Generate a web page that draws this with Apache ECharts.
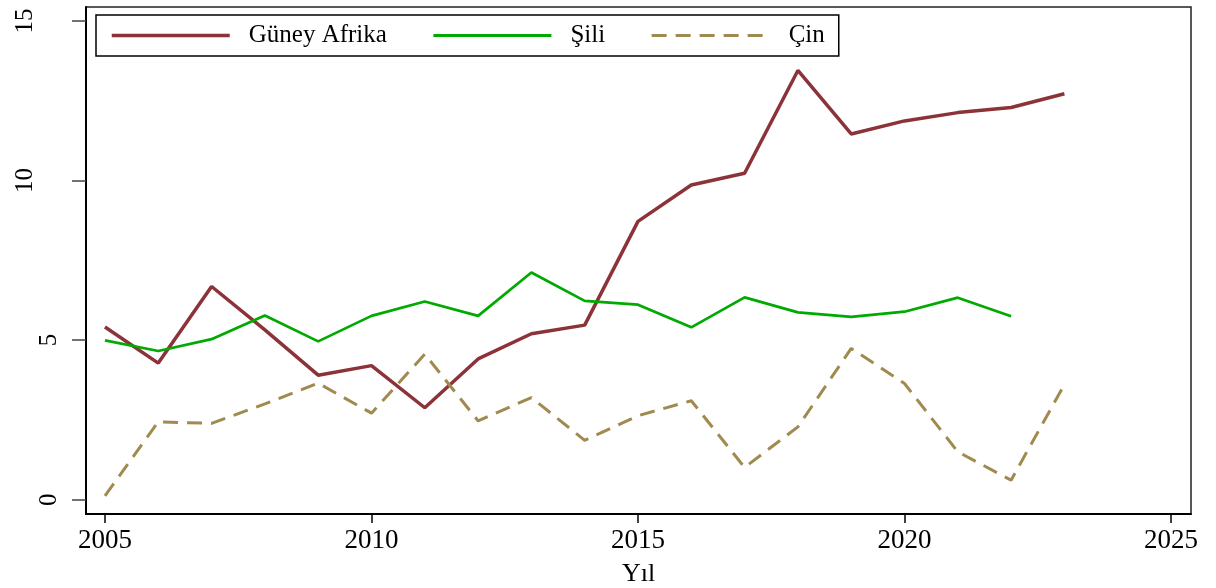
<html lang="tr">
<head>
    <meta charset="UTF-8">
    <title>Güney Afrika, Şili, Çin</title>
    <script src="https://cdn.jsdelivr.net/npm/echarts@6/dist/echarts.min.js"></script>
    <style type="text/css">
        html, body { margin: 0; padding: 0; background: #fff; }
        #main { width: 1216px; height: 588px; }
    </style>
</head>
<body>
    <div id="main"></div>
    <script type="text/javascript">
        // veriler
        var years = [2005, 2006, 2007, 2008, 2009, 2010, 2011, 2012, 2013, 2014,
                     2015, 2016, 2017, 2018, 2019, 2020, 2021, 2022, 2023];
        var guneyAfrika = [5.41, 4.28, 6.68, 5.32, 3.90, 4.20, 2.88, 4.41, 5.20, 5.47,
                           8.72, 9.86, 10.23, 13.45, 11.46, 11.87, 12.13, 12.29, 12.72];
        var sili = [4.99, 4.66, 5.03, 5.77, 4.96, 5.76, 6.21, 5.76, 7.12, 6.23,
                    6.11, 5.40, 6.34, 5.87, 5.73, 5.89, 6.33, 5.75];
        var cin = [0.12, 2.44, 2.39, 3.00, 3.65, 2.71, 4.56, 2.47, 3.20, 1.86,
                   2.63, 3.10, 1.01, 2.28, 4.74, 3.64, 1.50, 0.61, 3.61];
        var xTicks = [2005, 2010, 2015, 2020, 2025];
        var yTicks = [0, 5, 10, 15];

        function pairs(vals) {
            var out = [];
            for (var i = 0; i < vals.length; i++) {
                out.push([years[i], vals[i]]);
            }
            return out;
        }

        var font = '"Liberation Serif", "Times New Roman", serif';
        var chart = echarts.init(document.getElementById('main'));
        var option = {
            backgroundColor: '#fff',
            animation: false,
            textStyle: { fontFamily: font },
            grid: {
                left: 86, right: 25, top: 7, bottom: 74,
                outerBoundsMode: 'none',
                containLabel: false,
                show: true,
                borderColor: '#222',
                borderWidth: 1.5
            },
            legend: {
                left: 96,
                top: 15,
                itemWidth: 118,
                itemHeight: 14,
                itemGap: 45,
                padding: [8, 14, 8, 14],
                borderColor: '#000',
                borderWidth: 1.5,
                itemStyle: { opacity: 0 },
                textStyle: {
                    fontFamily: font,
                    fontSize: 25,
                    color: '#000',
                    padding: [0, 0, 0, 14]
                },
                data: [
                    { name: 'Güney Afrika', lineStyle: { width: 3.5 } },
                    { name: 'Şili', lineStyle: { width: 3 } },
                    { name: 'Çin', lineStyle: { width: 3, type: [15, 9] } }
                ]
            },
            xAxis: {
                type: 'value',
                min: 2004.644,
                max: 2025.375,
                name: 'Yıl',
                nameLocation: 'middle',
                nameGap: 47,
                nameTextStyle: { fontFamily: font, fontSize: 26, color: '#000' },
                axisLine: { onZero: false, lineStyle: { color: '#000', width: 2 } },
                axisTick: {
                    customValues: xTicks,
                    length: 9,
                    lineStyle: { color: '#000', width: 1.5 }
                },
                axisLabel: {
                    customValues: xTicks,
                    margin: 13,
                    fontFamily: font,
                    fontSize: 27,
                    color: '#000',
                    formatter: function (v) { return String(v); }
                },
                splitLine: { show: false }
            },
            yAxis: {
                type: 'value',
                min: -0.45,
                max: 15.44,
                axisLine: { show: true, onZero: false, lineStyle: { color: '#000', width: 2 } },
                axisTick: {
                    show: true,
                    customValues: yTicks,
                    length: 14,
                    lineStyle: { color: '#444', width: 1.5 }
                },
                axisLabel: {
                    customValues: yTicks,
                    rotate: 90,
                    margin: 24,
                    color: '#000',
                    formatter: function (v) {
                        return v >= 10 ? '{w|' + v + '}' : '{n|' + v + '}';
                    },
                    rich: {
                        n: { fontFamily: font, fontSize: 25, color: '#000' },
                        w: { fontFamily: font, fontSize: 25, color: '#000', padding: [0, 0, 24, 0] }
                    }
                },
                splitLine: { show: false }
            },
            series: [
                {
                    name: 'Güney Afrika',
                    type: 'line',
                    data: pairs(guneyAfrika),
                    showSymbol: false,
                    symbol: 'none',
                    color: '#8c3239',
                    lineStyle: { color: '#8c3239', width: 3.5 }
                },
                {
                    name: 'Şili',
                    type: 'line',
                    data: pairs(sili),
                    showSymbol: false,
                    symbol: 'none',
                    color: '#00aa00',
                    lineStyle: { color: '#00aa00', width: 2.7 }
                },
                {
                    name: 'Çin',
                    type: 'line',
                    data: pairs(cin),
                    showSymbol: false,
                    symbol: 'none',
                    color: '#a08a50',
                    lineStyle: { color: '#a08a50', width: 3, type: [15, 9] }
                }
            ]
        };
        chart.setOption(option);
    </script>
</body>
</html>
